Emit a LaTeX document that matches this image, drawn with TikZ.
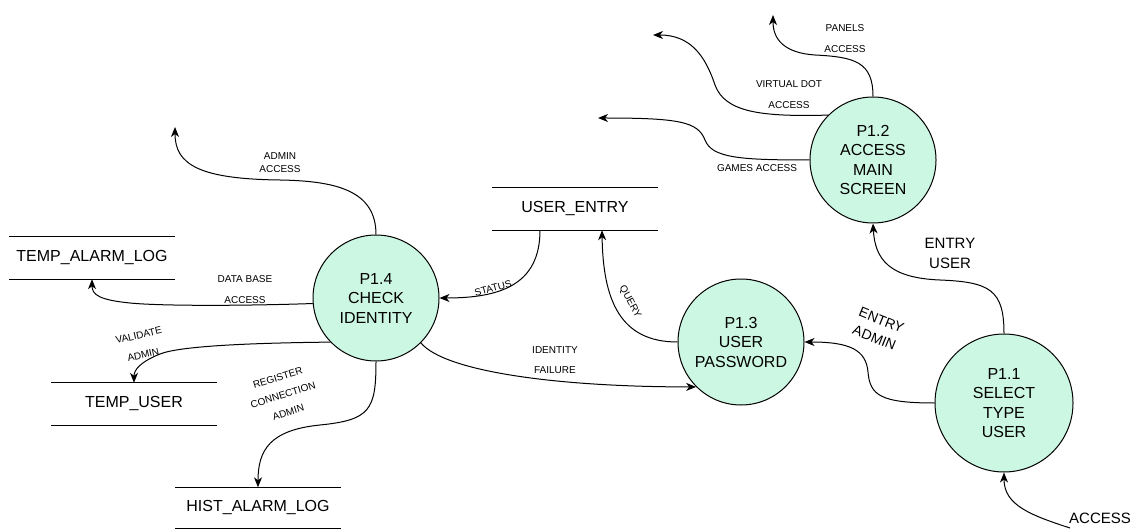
\documentclass[tikz,border=0pt]{standalone}
\usepackage{fontspec}
\setmainfont{Liberation Sans}
\usetikzlibrary{arrows.meta,calc}
\definecolor{mint}{RGB}{204,247,227}
\tikzset{
  proc/.style={circle, draw, line width=1pt, fill=mint, minimum size=126pt, inner sep=0pt, align=center, font=\fontsize{16}{19.5}\selectfont},
  store/.style={minimum width=165pt, minimum height=42pt, inner sep=0pt, font=\fontsize{16}{19}\selectfont},
  storeline/.style={line width=1pt},
  flow/.style={line width=1pt, -{Stealth[length=10pt,width=8pt,inset=3pt]}},
  lbl/.style={align=center, inner sep=0pt, font=\fontsize{10}{21}\selectfont},
  biglbl/.style={align=center, inner sep=0pt, font=\fontsize{15}{20}\selectfont}
}
\begin{document}
\begin{tikzpicture}[x=1pt, y=-1pt]
	\useasboundingbox (0,0) rectangle (1145,529);
	\node[proc] (p14) at (376,298) {P1.4\\CHECK\\IDENTITY};
	\node[proc] (p13) at (741,342) {P1.3\\USER\\PASSWORD};
	\node[proc] (p12) at (873,160) {P1.2\\ACCESS\\MAIN\\SCREEN};
	\node[proc, minimum size=138pt] (p11) at (1004,403) {P1.1\\SELECT\\TYPE\\USER};
	\node[store] (tal) at (92,258) {TEMP\_ALARM\_LOG};
	\node[store] (tu) at (134,404) {TEMP\_USER};
	\node[store, minimum height=41pt] (hal) at (258,508) {HIST\_ALARM\_LOG};
	\node[store] (ue) at (575,209) {USER\_ENTRY};
	\foreach \s in {tal,tu,hal,ue}
		\draw[storeline] (\s.north west) -- (\s.north east) (\s.south west) -- (\s.south east);
	\coordinate (adminout) at (175,127);
	\coordinate (panelsout) at (773,15);
	\coordinate (dotout) at (653,35);
	\coordinate (gamesout) at (598,118);
	\coordinate (accin) at (1070,528);
	\draw[flow] (p14.north) .. controls (376,190) and (335,181) .. (280,180) .. controls (200,179) and (175,165) .. (adminout);
	\node[lbl, font=\fontsize{10}{13}\selectfont] (lbladmin) at (280,163) {ADMIN\\ACCESS};
	\draw[flow] (p14.185) .. controls (240,306) and (160,306) .. (130,303) .. controls (100,300) and (92,295) .. (tal.south);
	\node[lbl] (lbldb) at (245,290) {DATA BASE\\ACCESS};
	\draw[flow] (p14.224) .. controls (250,343) and (180,346) .. (160,354) .. controls (140,362) and (134,370) .. (tu.north);
	\node[lbl, font=\fontsize{10}{20}\selectfont, rotate=13] (lblval) at (141,345) {VALIDATE\\ADMIN};
	\draw[flow] (p14.south) .. controls (376,410) and (370,420) .. (320,425) .. controls (270,430) and (258,450) .. (hal.north);
	\node[lbl, font=\fontsize{10}{18}\selectfont, rotate=17] (lblreg) at (283,395) {REGISTER\\CONNECTION\\ADMIN};
	\draw[flow] ($(ue.south)+(-35,0)$) .. controls (540,285) and (500,298) .. (p14.east);
	\node[lbl, rotate=15] (lblstat) at (493,288) {STATUS};
	\draw[flow] (p13.west) .. controls (620,342) and (603,300) .. ($(ue.south)+(27,0)$);
	\node[lbl, rotate=-62] (lblq) at (630,302) {QUERY};
	\draw[flow] (p14.315) .. controls (445,372) and (560,387) .. (p13.225);
	\node[lbl, font=\fontsize{10}{20}\selectfont] (lblid) at (555,360) {IDENTITY\\FAILURE};
	\draw[flow] (p11.west) .. controls (880,403) and (870,395) .. (868,372) .. controls (866,350) and (850,342) .. (p13.east);
	\node[biglbl, font=\fontsize{14}{19}\selectfont, rotate=-22] (lblea) at (878,329) {ENTRY\\ADMIN};
	\draw[flow] (p11.north) .. controls (1004,290) and (990,282) .. (940,280) .. controls (890,278) and (875,260) .. (p12.south);
	\node[biglbl] (lbleu) at (950,253) {ENTRY\\USER};
	\draw[flow] (accin) .. controls (1030,515) and (1004,505) .. (p11.south);
	\node[biglbl] (lblacc) at (1100,518) {ACCESS};
	\draw[flow] (p12.north) .. controls (873,62) and (855,57) .. (815,55) .. controls (785,53) and (773,40) .. (panelsout);
	\node[lbl] (lblpan) at (845,39) {PANELS\\ACCESS};
	\draw[flow] (p12.135) .. controls (760,117) and (725,112) .. (715,85) .. controls (705,55) and (690,35) .. (dotout);
	\node[lbl] (lbldot) at (789,95) {VIRTUAL DOT\\ACCESS};
	\draw[flow] (p12.west) .. controls (740,160) and (712,158) .. (705,140) .. controls (698,122) and (680,118) .. (gamesout);
	\node[lbl] (lblgame) at (757,168) {GAMES ACCESS};
\end{tikzpicture}
\end{document}
